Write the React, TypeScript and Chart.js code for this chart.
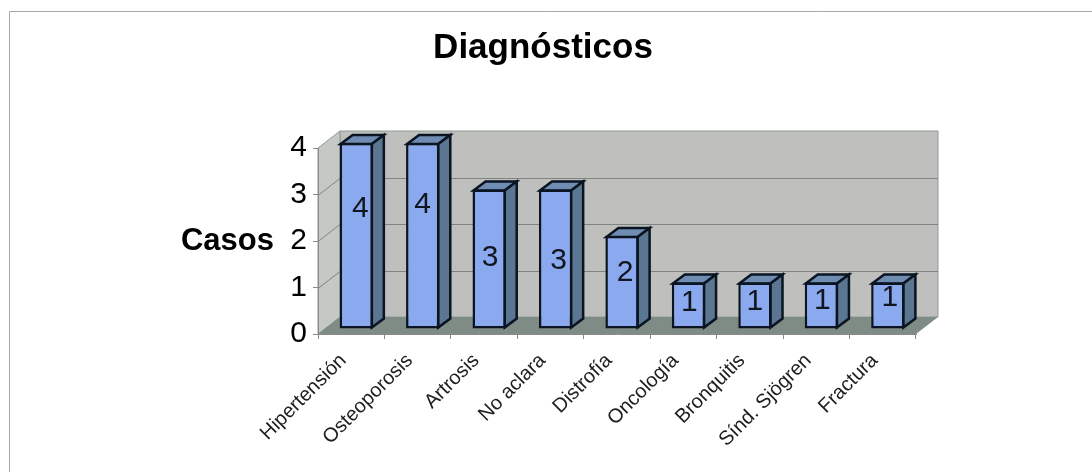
import React, { useEffect, useRef } from "react";
import { Chart, registerables } from "chart.js";

Chart.register(...registerables);

const categories = ["Hipertensión", "Osteoporosis", "Artrosis", "No aclara", "Distrofía", "Oncología", "Bronquitis", "Sínd. Sjögren", "Fractura"];
const casos = [4, 4, 3, 3, 2, 1, 1, 1, 1];
// height (in axis units) where each printed value sits inside its bar
const labelAnchors = [2.58, 2.67, 1.53, 1.46, 1.2, 0.56, 0.58, 0.6, 0.67];
const labelShiftX = [4, 0, 1, 3, 3, 1, 0, 1, 2];
const yTicks = [0, 1, 2, 3, 4];
const titleText = "Diagnósticos";
const yAxisText = "Casos";

const DEPTH_X = 22;
const DEPTH_Y = 17;
const BAR_SHIFT_X = 5;
const BAR_SHIFT_Y = 5;
const BAR_DX = 12;
const BAR_DY = 9;
const INK = "#0a1422";

const poly = (ctx: CanvasRenderingContext2D, pts: number[][], fill: string | null, stroke: string | null, lw = 1) => {
  ctx.beginPath();
  pts.forEach(([x, y], i) => (i ? ctx.lineTo(x, y) : ctx.moveTo(x, y)));
  ctx.closePath();
  if (fill) { ctx.fillStyle = fill; ctx.fill(); }
  if (stroke) { ctx.strokeStyle = stroke; ctx.lineWidth = lw; ctx.lineJoin = "miter"; ctx.stroke(); }
};

const framePlugin = {
  id: "frame3d",
  beforeDraw(chart: any) {
    const { ctx, scales } = chart;
    const x = scales.x;
    const y = scales.y;
    const l = x.left, r = x.right, b = y.bottom, t = y.top;
    ctx.save();
    // outer border: only the top and left edges show
    ctx.strokeStyle = "#a8a8a8";
    ctx.lineWidth = 1;
    ctx.beginPath();
    ctx.moveTo(9.5, 472);
    ctx.lineTo(9.5, 11.5);
    ctx.lineTo(1092, 11.5);
    ctx.stroke();
    // walls
    poly(ctx, [[l + DEPTH_X, t - DEPTH_Y], [r + DEPTH_X, t - DEPTH_Y], [r + DEPTH_X, b - DEPTH_Y], [l + DEPTH_X, b - DEPTH_Y]], "#bfc0bd", "#8e9a92");
    poly(ctx, [[l, t], [l + DEPTH_X, t - DEPTH_Y], [l + DEPTH_X, b - DEPTH_Y], [l, b]], "#c4c9c6", "#8e9a92");
    poly(ctx, [[l, b], [l + DEPTH_X, b - DEPTH_Y], [r + DEPTH_X, b - DEPTH_Y], [r, b]], "#7f8c85", null);
    // gridlines
    ctx.strokeStyle = "#808480";
    ctx.lineWidth = 1;
    yTicks.forEach((v) => {
      if (v === 0 || v === yTicks[yTicks.length - 1]) return;
      const py = Math.round(y.getPixelForValue(v)) + 0.5;
      ctx.beginPath();
      ctx.moveTo(l, py);
      ctx.lineTo(l + DEPTH_X, py - DEPTH_Y);
      ctx.lineTo(r + DEPTH_X, py - DEPTH_Y);
      ctx.stroke();
    });
    ctx.restore();
  },
  beforeDatasetsDraw(chart: any) {
    const { ctx } = chart;
    ctx.save();
    ctx.translate(BAR_SHIFT_X, -BAR_SHIFT_Y);
    chart.getDatasetMeta(0).data.forEach((bar: any) => {
      const hw = bar.width / 2 - 1;
      const L = bar.x - hw, R = bar.x + hw, T = bar.y + 1, B = bar.base - 1;
      poly(ctx, [[L, T], [L + BAR_DX, T - BAR_DY], [R + BAR_DX, T - BAR_DY], [R, T]], "#6f8db3", INK, 2.5);
      poly(ctx, [[R, T], [R + BAR_DX, T - BAR_DY], [R + BAR_DX, B - BAR_DY], [R, B]], "#5b7690", INK, 2.5);
    });
  },
  afterDatasetsDraw(chart: any) {
    const { ctx, scales } = chart;
    ctx.restore();
    ctx.save();
    ctx.fillStyle = "#10161e";
    ctx.font = '30px "Liberation Sans"';
    ctx.textAlign = "center";
    ctx.textBaseline = "middle";
    chart.getDatasetMeta(0).data.forEach((bar: any, i: number) => {
      ctx.fillText(String(casos[i]), bar.x + BAR_SHIFT_X + labelShiftX[i], scales.y.getPixelForValue(labelAnchors[i]) - BAR_SHIFT_Y);
    });
    ctx.fillStyle = "#000";
    ctx.font = 'bold 31px "Liberation Sans"';
    ctx.textAlign = "right";
    ctx.fillText(yAxisText, 274, 241);
    ctx.restore();
  },
};

export default function App() {
  const ref = useRef<HTMLCanvasElement>(null);
  useEffect(() => {
    const chart = new Chart(ref.current!, {
      type: "bar",
      data: {
        labels: categories,
        datasets: [{
          label: yAxisText,
          data: casos,
          backgroundColor: "#8aa9ee",
          borderColor: INK,
          borderWidth: 2.5,
          borderSkipped: false,
          barPercentage: 0.5,
          categoryPercentage: 1,
        }],
      },
      options: {
        animation: false,
        responsive: false,
        layout: { padding: { right: 6 } },
        plugins: {
          legend: { display: false },
          tooltip: { enabled: false },
          title: {
            display: true,
            text: titleText,
            color: "#000",
            font: { family: '"Liberation Sans"', size: 35, weight: "bold" },
            padding: { top: 27, bottom: 79 },
          },
        },
        scales: {
          x: {
            position: "bottom",
            grid: { display: true, drawOnChartArea: false, drawTicks: true, tickLength: 5, offset: true, color: "#8a8a8a" },
            border: { color: "#8a8a8a" },
            ticks: { color: "#202020", font: { family: '"Liberation Sans"', size: 20 }, minRotation: 45, maxRotation: 45, autoSkip: false, padding: 10, labelOffset: -8 },
            afterFit(s: any) { s.height = 472 - 334; },
          },
          y: {
            min: 0,
            max: 4,
            grid: { display: true, drawOnChartArea: false, tickLength: 5, color: "#8a8a8a" },
            border: { color: "#8a8a8a" },
            ticks: { stepSize: 1, color: "#000", font: { family: '"Liberation Sans"', size: 30 }, padding: 6 },
            afterFit(s: any) { s.width = 318; },
          },
          yRight: {
            position: "right",
            min: 0,
            max: 4,
            grid: { display: false },
            border: { display: false },
            ticks: { display: false },
            afterFit(s: any) { s.width = 1092 - 916 - 6; },
          },
        },
      },
      plugins: [framePlugin],
    } as any);
    return () => chart.destroy();
  }, []);
  return (
    <div style={{ position: "fixed", left: 0, top: 0, width: 1092, height: 472, background: "#fff" }}>
      <canvas ref={ref} width={1092} height={472} style={{ display: "block" }} />
    </div>
  );
}
